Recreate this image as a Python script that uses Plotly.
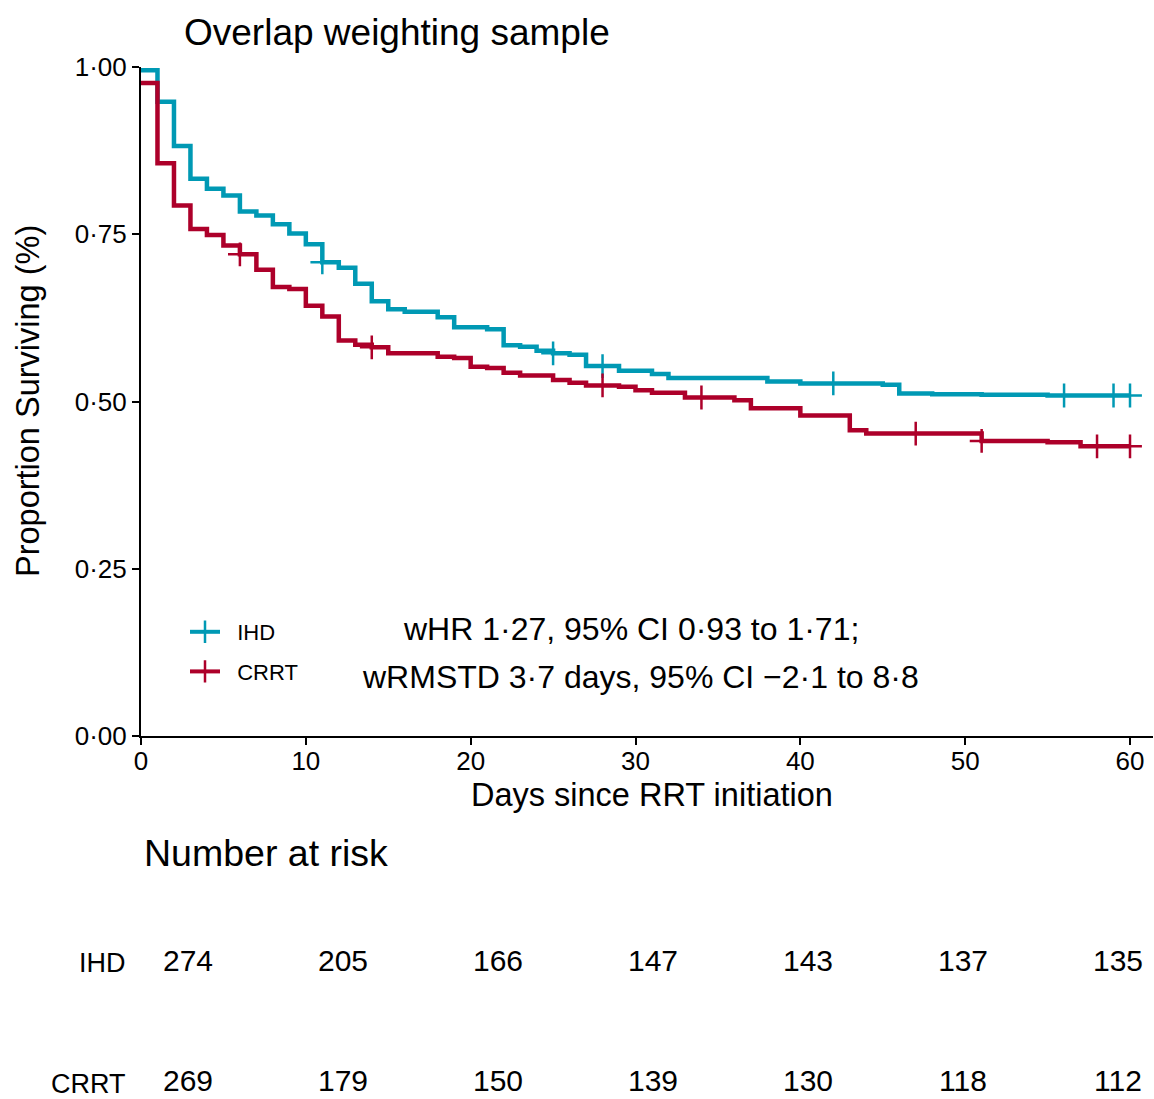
import plotly.graph_objects as go

# Weighted Kaplan-Meier estimates (days since RRT initiation)
ihd_time = [0, 1, 2, 3, 4, 5, 6, 7, 8, 9, 10, 11, 12, 13, 14, 15, 16, 18, 19, 21,
            22, 23, 24, 25, 26, 27, 29, 31, 32, 38, 40, 45, 46, 48, 51, 55]
ihd_surv = [0.995, 0.948, 0.882, 0.833, 0.818, 0.808, 0.784, 0.778, 0.765, 0.751,
            0.735, 0.708, 0.700, 0.676, 0.650, 0.638, 0.634, 0.626, 0.611, 0.608,
            0.584, 0.582, 0.576, 0.572, 0.570, 0.553, 0.546, 0.541, 0.535, 0.530,
            0.527, 0.525, 0.512, 0.511, 0.510, 0.509]
ihd_censor = [11, 25, 28, 42, 56, 59, 60]

crrt_time = [0, 1, 2, 3, 4, 5, 6, 7, 8, 9, 10, 11, 12, 13, 14, 15, 18, 19, 20, 21,
             22, 23, 25, 26, 27, 29, 30, 31, 33, 36, 37, 40, 43, 44, 51, 55, 57]
crrt_surv = [0.976, 0.856, 0.793, 0.758, 0.749, 0.733, 0.720, 0.697, 0.671, 0.668,
             0.643, 0.627, 0.591, 0.585, 0.581, 0.572, 0.567, 0.565, 0.552, 0.550,
             0.543, 0.539, 0.532, 0.528, 0.524, 0.522, 0.517, 0.513, 0.506, 0.502,
             0.490, 0.479, 0.457, 0.452, 0.441, 0.439, 0.433]
crrt_censor = [6, 14, 28, 34, 47, 51, 58, 60]

follow_up_end = 60

x_ticks = [0, 10, 20, 30, 40, 50, 60]
y_ticks = [0, 0.25, 0.5, 0.75, 1.0]
y_tick_labels = ["0·00", "0·25", "0·50", "0·75", "1·00"]

groups = ["IHD", "CRRT"]
risk_times = [0, 10, 20, 30, 40, 50, 60]
risk_ihd = [274, 205, 166, 147, 143, 137, 135]
risk_crrt = [269, 179, 150, 139, 130, 118, 112]

colors = {"IHD": "#0099B4", "CRRT": "#AD002A"}
FONT = "Liberation Sans, Arial, Helvetica, sans-serif"
W, H = 1154, 1099
NBSP = "\u00a0"


def surv_at(times, surv, t):
    value = surv[0]
    for ti, si in zip(times, surv):
        if ti <= t:
            value = si
    return value


fig = go.Figure()

series = [("IHD", ihd_time, ihd_surv, ihd_censor),
          ("CRRT", crrt_time, crrt_surv, crrt_censor)]

for name, times, surv, censor in series:
    col = colors[name]
    fig.add_trace(go.Scatter(
        x=times + [follow_up_end], y=surv + [surv[-1]],
        mode="lines", line=dict(color=col, width=4.5, shape="hv"),
        showlegend=False, legendgroup=name, hoverinfo="skip"))
    # censoring marks; gaps keep the marks unconnected while the legend shows line + mark
    cx, cy = [], []
    for t in censor:
        cx += [t, None]
        cy += [surv_at(times, surv, t), None]
    fig.add_trace(go.Scatter(
        x=cx, y=cy, mode="lines+markers", name=NBSP * 2 + name, legendgroup=name,
        connectgaps=False,
        line=dict(color=col, width=4),
        marker=dict(symbol="cross-thin", size=17, color=col,
                    line=dict(color=col, width=2.5))))

# number-at-risk table
for idx, (name, vals) in enumerate(zip(groups, [risk_ihd, risk_crrt])):
    fig.add_trace(go.Scatter(
        x=risk_times, y=[idx] * len(risk_times), xaxis="x2", yaxis="y2",
        mode="text", text=[str(v) for v in vals], textposition="middle center",
        textfont=dict(family=FONT, size=30, color="black"),
        showlegend=False, hoverinfo="skip", cliponaxis=False))

axis_common = dict(showline=True, linecolor="black", linewidth=2, ticks="outside",
                   ticklen=7, tickwidth=2, tickcolor="black", showgrid=False,
                   zeroline=False, automargin=False,
                   tickfont=dict(family=FONT, size=26, color="black"))

fig.update_layout(
    width=W, height=H,
    margin=dict(l=0, r=0, t=0, b=0, pad=0, autoexpand=False),
    paper_bgcolor="white", plot_bgcolor="white",
    font=dict(family=FONT, color="black"),
    xaxis=dict(domain=[141 / W, 1153 / W], range=[0, 61.395], tickvals=x_ticks,
               anchor="y", ticklabelstandoff=-6, **axis_common),
    yaxis=dict(domain=[1 - 736 / H, 1 - 67 / H], range=[0, 1], tickvals=y_ticks,
               ticktext=y_tick_labels, anchor="x", **axis_common),
    xaxis2=dict(domain=[0, 1], range=[-12.129, 62.323], visible=False, anchor="y2"),
    yaxis2=dict(domain=[0, 0.3], range=[1.124, -1.601], visible=False, anchor="x2"),
    legend=dict(x=185 / W, y=1 - 611 / H, xanchor="left", yanchor="top",
                font=dict(family=FONT, size=22, color="black"), itemwidth=30,
                bgcolor="rgba(0,0,0,0)", traceorder="grouped", tracegroupgap=8),
    showlegend=True,
)

annotations = [
    dict(text="Overlap weighting sample", x=182 / W, y=1 - 32 / H, xanchor="left",
         yanchor="middle", font=dict(size=37)),
    dict(text="Proportion Surviving (%)", x=28 / W, y=1 - 401 / H, xanchor="center",
         yanchor="middle", textangle=-90, font=dict(size=32.5)),
    dict(text="Days since RRT initiation", x=652 / W, y=1 - 795 / H, xanchor="center",
         yanchor="middle", font=dict(size=32.5)),
    dict(text="wHR 1·27, 95% CI 0·93 to 1·71;", x=631 / W, y=1 - 629 / H,
         xanchor="center", yanchor="middle", font=dict(size=32)),
    dict(text="wRMSTD 3·7 days, 95% CI −2·1 to 8·8", x=640 / W, y=1 - 677 / H,
         xanchor="center", yanchor="middle", font=dict(size=32)),
    dict(text="Number at risk", x=142 / W, y=1 - 853 / H, xanchor="left",
         yanchor="middle", font=dict(size=37.5)),
]
for idx, name in enumerate(groups):
    annotations.append(dict(text=name, x=128 / W, y=idx, xref="paper", yref="y2",
                            xanchor="right", yanchor="middle", font=dict(size=27)))
for a in annotations:
    a.setdefault("xref", "paper")
    a.setdefault("yref", "paper")
    a["showarrow"] = False
    a["font"] = dict(family=FONT, color="black", **a["font"])
fig.update_layout(annotations=annotations)

fig.write_html("out.html")
